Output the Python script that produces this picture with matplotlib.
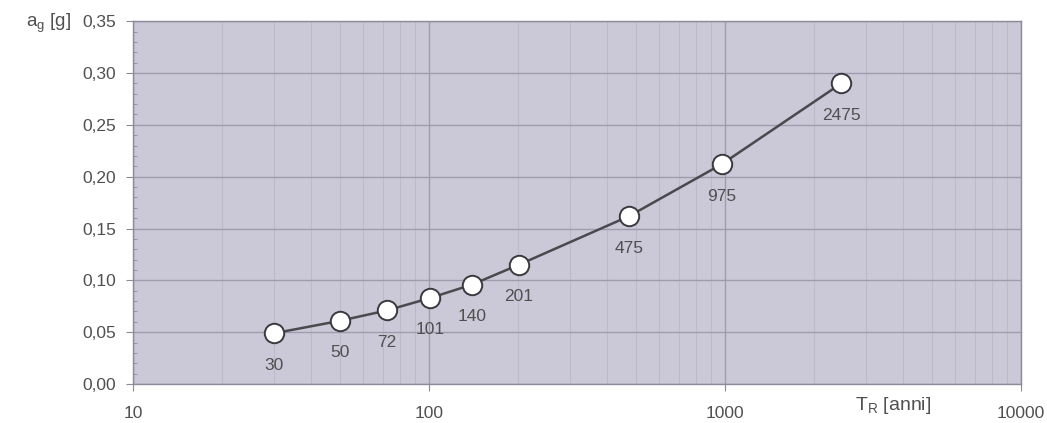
import matplotlib.pyplot as plt
from matplotlib.ticker import FixedLocator, LogLocator, NullFormatter, FuncFormatter

# Return periods [years] and peak ground acceleration [g]
periods = [30, 50, 72, 101, 140, 201, 475, 975, 2475]
ag = [0.049, 0.061, 0.071, 0.083, 0.096, 0.115, 0.162, 0.212, 0.290]
labels = ["30", "50", "72", "101", "140", "201", "475", "975", "2475"]

plt.rcParams['font.family'] = ['Liberation Sans', 'DejaVu Sans']
text_color = '#505050'

fig = plt.figure(figsize=(10.47, 4.23), dpi=100)
ax = fig.add_axes([0.127, 0.092, 0.848, 0.858])
ax.set_facecolor('#cbc8d7')

ax.set_xscale('log')
ax.set_xlim(10, 10000)
ax.set_ylim(0, 0.35)

# grid
ax.xaxis.set_major_locator(FixedLocator([10, 100, 1000, 10000]))
ax.xaxis.set_minor_locator(LogLocator(base=10, subs=range(2, 10)))
ax.xaxis.set_minor_formatter(NullFormatter())
ax.xaxis.set_major_formatter(FuncFormatter(lambda v, p: "%d" % v))
ax.yaxis.set_major_locator(FixedLocator([i * 0.05 for i in range(8)]))
ax.yaxis.set_minor_locator(FixedLocator([i * 0.01 for i in range(36)]))
ax.yaxis.set_major_formatter(FuncFormatter(lambda v, p: ("%.2f" % v).replace('.', ',')))

ax.grid(which='major', axis='both', color='#9f9cae', linewidth=1.0)
ax.grid(which='minor', axis='x', color='#bcb9ca', linewidth=0.8)
ax.set_axisbelow(True)

for side in ['top', 'right', 'left', 'bottom']:
    ax.spines[side].set_color('#8d8b99')
    ax.spines[side].set_linewidth(1.0)

ax.tick_params(which='major', axis='both', length=5, color='#8d8b99', labelsize=12.5, labelcolor=text_color, direction='out')
ax.tick_params(which='major', axis='x', pad=11)
ax.tick_params(which='major', axis='y', pad=7)
ax.tick_params(which='minor', axis='y', length=3, direction='in', color='#8d8b99')
ax.tick_params(which='minor', axis='x', length=0)

ax.plot(periods, ag, color='#4a4a4e', linewidth=1.8, marker='o', markersize=14,
        markerfacecolor='white', markeredgecolor='#3a3a3e', markeredgewidth=1.4, zorder=3)

for x, y, t in zip(periods, ag, labels):
    ax.annotate(t, (x, y), xytext=(0, -23), textcoords='offset points',
                ha='center', va='center', fontsize=12.5, color=text_color)

fig.text(0.046, 0.945, r"a$_\mathregular{g}$ [g]", fontsize=13.5, color=text_color, ha='center', va='center')
fig.text(0.853, 0.042, r"T$_\mathregular{R}$ [anni]", fontsize=14, color=text_color, ha='center', va='center')

fig.savefig('out.png', dpi=100, facecolor='white')
